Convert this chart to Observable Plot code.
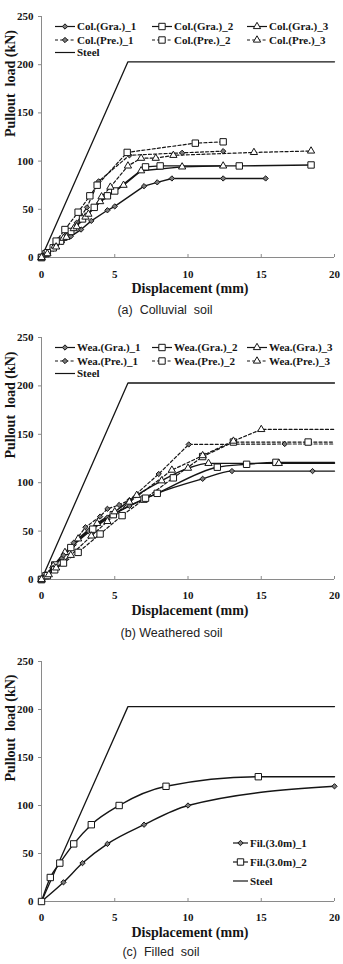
<!DOCTYPE html>
<html>
<head>
<meta charset="utf-8">
<script src="https://cdn.jsdelivr.net/npm/d3@7"></script>
<script src="https://cdn.jsdelivr.net/npm/@observablehq/plot@0.6"></script>
<style>
  body { margin: 0; background: #fff; width: 343px; }
  svg text {
    white-space: pre;
    font-family: "Liberation Serif", "Times New Roman", serif !important;
    font-weight: bold;
  }
  .cap {
    font-family: "Liberation Sans", Arial, sans-serif;
    font-size: 12.5px;
    color: #222;
    text-align: center;
    white-space: pre;
  }
</style>
</head>
<body>
<div id="chart"></div>
<script>
// Axis ticks shared by the three panels
const xTicks = [0, 5, 10, 15, 20];
const yTicks = [0, 50, 100, 150, 200, 250];

// Steel tendon reference curve
const steelX = [0, 5.9, 20];
const steelY = [0, 203, 203];

// (a) Colluvial soil
const colNames = ["Col.(Gra.)_1", "Col.(Gra.)_2", "Col.(Gra.)_3", "Col.(Pre.)_1", "Col.(Pre.)_2", "Col.(Pre.)_3"];
const colGra1X = [0, 0.3, 0.8, 1.4, 2.0, 2.7, 3.4, 4.5, 5.0, 7.0, 7.9, 8.9, 12.4, 15.3];
const colGra1Y = [0, 3, 9, 16, 22, 29, 38, 49, 53, 74, 78, 82, 82, 82];
const colGra2X = [0, 0.3, 0.8, 1.3, 2.0, 2.8, 3.6, 4.5, 5.0, 7.1, 8.1, 13.5, 18.4];
const colGra2Y = [0, 4, 10, 17, 27, 40, 52, 64, 69, 94, 95, 95, 96];
const colGra3X = [0, 0.3, 0.9, 1.5, 2.2, 3.0, 4.0, 5.6, 6.8, 9.6, 12.4];
const colGra3Y = [0, 4, 12, 20, 30, 42, 58, 75, 90, 94, 95];
const colPre1X = [0, 0.4, 1.0, 1.7, 2.4, 3.1, 3.9, 6.0, 9.6, 12.4];
const colPre1Y = [0, 5, 13, 24, 36, 52, 79, 106, 108.6, 110.3];
const colPre2X = [0, 0.4, 1.0, 1.6, 2.5, 3.3, 3.8, 5.85, 10.5, 12.4];
const colPre2Y = [0, 5, 17, 29, 47, 64, 75, 109, 118.6, 120];
const colPre3X = [0, 0.4, 1.0, 1.7, 2.4, 3.2, 4.1, 4.7, 5.9, 6.8, 7.8, 9.0, 14.5, 18.4];
const colPre3Y = [0, 4, 11, 21, 32, 45, 63, 73, 95, 103, 103, 106, 109, 110.5];

// (b) Weathered soil
const weaNames = ["Wea.(Gra.)_1", "Wea.(Gra.)_2", "Wea.(Gra.)_3", "Wea.(Pre.)_1", "Wea.(Pre.)_2", "Wea.(Pre.)_3"];
const weaGra1X = [0, 0.3, 0.8, 1.4, 2.2, 3.2, 4.5, 6.0, 7.9, 11.0, 13.0, 18.5, 20];
const weaGra1Y = [0, 4, 14, 22, 36, 50, 64, 76, 89, 104, 112, 112, 112];
const weaGra2X = [0, 0.3, 0.9, 2.0, 3.5, 4.9, 7.0, 7.9, 12.0, 14.0, 16.0, 20];
const weaGra2Y = [0, 4, 15, 33, 52, 67, 83, 89, 116, 119, 121, 121];
const weaGra3X = [0, 0.3, 0.8, 1.6, 2.5, 3.8, 5.0, 6.5, 8.2, 10.0, 11.4, 16.2, 20];
const weaGra3Y = [0, 4, 14, 28, 42, 58, 70, 87, 102, 115, 120, 120, 120];
const weaPre1X = [0, 0.3, 0.8, 1.5, 2.2, 3.0, 4.0, 4.5, 5.3, 6.0, 8.0, 10.05, 16.6, 20];
const weaPre1Y = [0, 4, 12, 25, 38, 54, 65, 73, 77, 82, 109, 139.5, 140, 140];
const weaPre2X = [0, 0.4, 0.9, 1.5, 2.5, 4.0, 5.5, 7.1, 9.0, 11.0, 13.1, 18.2, 20];
const weaPre2Y = [0, 4, 10, 17, 28, 47, 66, 84, 105, 127, 142, 142, 142];
const weaPre3X = [0, 0.5, 1.0, 2.0, 3.4, 4.5, 6.0, 8.9, 11.0, 13.1, 15.0, 20];
const weaPre3Y = [0, 5, 12, 25, 45, 60, 80, 113, 128, 143, 155, 155];

// (c) Filled soil
const filNames = ["Fil.(3.0m)_1", "Fil.(3.0m)_2"];
const fil1X = [0, 1.5, 2.8, 4.5, 7.0, 10.0, 20];
const fil1Y = [0, 20, 40, 60, 80, 100, 120];
const fil2X = [0, 0.6, 1.25, 2.2, 3.4, 5.3, 8.5, 14.8, 20];
const fil2Y = [0, 25, 40, 60, 80, 100, 120, 130, 130];

const INK = "#151515";
const AXIS = "#8a8a8a";
const DASH = "3,2.2";
const SYMBOLS = {diamond: d3.symbolDiamond2, square: d3.symbolSquare, triangle: d3.symbolTriangle};
const SYMBOL_R = {diamond: 2.4, square: 3.6, triangle: 2.7};
const SYMBOL_FILL = {diamond: "#7a7a7a", square: "#fff", triangle: "#fff"};

function makeSeries(names, xs, ys, openEnd) {
  const styles = [
    {dash: false, symbol: "diamond"}, {dash: false, symbol: "square"}, {dash: false, symbol: "triangle"},
    {dash: true, symbol: "diamond"}, {dash: true, symbol: "square"}, {dash: true, symbol: "triangle"}
  ];
  return names.map((name, k) => ({name, x: xs[k], y: ys[k], openEnd, ...styles[k]}));
}

const colSeries = makeSeries(colNames,
  [colGra1X, colGra2X, colGra3X, colPre1X, colPre2X, colPre3X],
  [colGra1Y, colGra2Y, colGra3Y, colPre1Y, colPre2Y, colPre3Y], false);
const weaSeries = makeSeries(weaNames,
  [weaGra1X, weaGra2X, weaGra3X, weaPre1X, weaPre2X, weaPre3X],
  [weaGra1Y, weaGra2Y, weaGra3Y, weaPre1Y, weaPre2Y, weaPre3Y], true);
const filSeries = [
  {name: filNames[0], x: fil1X, y: fil1Y, dash: false, symbol: "diamond", openEnd: false},
  {name: filNames[1], x: fil2X, y: fil2Y, dash: false, symbol: "square", openEnd: true}
];

// Legend drawn inside the frame: a short line with its marker, then the label
function legendMark(entries, cells) {
  return (index, scales, values, dims) => {
    const g = d3.create("svg:g").attr("font-size", 11).attr("fill", INK).attr("text-anchor", "start");
    entries.forEach((e, k) => {
      const c = cells[k];
      const row = g.append("g")
        .attr("transform", `translate(${dims.marginLeft + c.x},${dims.marginTop + c.y})`);
      row.append("line")
        .attr("x2", c.len).attr("stroke", INK).attr("stroke-width", 1.2)
        .attr("stroke-dasharray", e.dash ? DASH : null);
      if (e.symbol) {
        const r = SYMBOL_R[e.symbol];
        row.append("path")
          .attr("transform", `translate(${c.len / 2},0)`)
          .attr("d", d3.symbol(SYMBOLS[e.symbol], Math.PI * r * r)())
          .attr("fill", SYMBOL_FILL[e.symbol]).attr("stroke", INK).attr("stroke-width", 1);
      }
      row.append("text").attr("x", c.len + 2).attr("dy", "0.35em")
        .attr("text-anchor", "start").text(e.label);
    });
    return g.node();
  };
}

function gridCells(n) {
  const cols = [14, 111, 206], rows = [10.5, 24, 36.5];
  return d3.range(n).map(k => ({x: cols[k % 3], y: rows[Math.floor(k / 3)], len: 20}));
}

function makePanel(p) {
  const rows = p.series.flatMap(s => s.x.map((x, i) => ({
    name: s.name, x, y: s.y[i], marked: !(s.openEnd && i === s.x.length - 1)
  })));
  const steel = steelX.map((x, i) => ({x, y: steelY[i]}));

  const marks = [
    Plot.ruleY([0], {stroke: AXIS}),
    Plot.ruleX([0], {stroke: AXIS}),
    Plot.axisY({ticks: yTicks, tickSize: 3, tickPadding: 5, stroke: AXIS, label: null}),
    Plot.axisX({ticks: xTicks, tickSize: 3, dy: -3, tickFormat: () => "", stroke: AXIS, label: null}),
    Plot.axisX({ticks: xTicks, tickSize: 0, tickPadding: p.tickPadding, label: null}),
    Plot.text(["Displacement (mm)"], {text: d => d, frameAnchor: "bottom", dx: 2, dy: 31, lineAnchor: "middle", fontSize: 14}),
    Plot.text(["Pullout  load (kN)"], {text: d => d, frameAnchor: "left", dx: -31, rotate: -90, lineAnchor: "middle", fontSize: 14}),
    Plot.line(steel, {x: "x", y: "y", stroke: INK, strokeWidth: 1.3})
  ];
  for (const s of p.series) {
    const pts = rows.filter(d => d.name === s.name);
    marks.push(Plot.line(pts, {
      x: "x", y: "y", stroke: INK, strokeWidth: s.dash ? 1.2 : 1.4,
      strokeDasharray: s.dash ? DASH : null,
      curve: s.dash ? "linear" : p.solidCurve
    }));
  }
  for (const s of p.series) {
    const pts = rows.filter(d => d.name === s.name && d.marked);
    marks.push(Plot.dot(pts, {
      x: "x", y: "y", symbol: SYMBOLS[s.symbol], r: SYMBOL_R[s.symbol],
      fill: SYMBOL_FILL[s.symbol], stroke: INK, strokeWidth: 1
    }));
  }
  const entries = p.series.map(s => ({label: s.name, dash: s.dash, symbol: s.symbol}))
    .concat([{label: "Steel", dash: false, symbol: null}]);
  marks.push(legendMark(entries, p.legendCells(entries.length)));

  return Plot.plot({
    width: 343,
    height: p.height,
    marginLeft: 41,
    marginRight: 9,
    marginTop: p.marginTop,
    marginBottom: p.marginBottom,
    x: {domain: [0, 20]},
    y: {domain: [0, 250]},
    style: {
      fontFamily: '"Liberation Serif", "Times New Roman", serif',
      fontWeight: "bold",
      fontSize: "11px",
      color: INK,
      background: "#fff",
      overflow: "visible"
    },
    marks
  });
}

const panels = [
  {series: colSeries, height: 296, marginTop: 16, marginBottom: 39, tickPadding: 12.5,
   solidCurve: "linear", legendCells: gridCells,
   caption: "(a)  Colluvial  soil", capHeight: 28, capShift: 13},
  {series: weaSeries, height: 298, marginTop: 13, marginBottom: 43, tickPadding: 12,
   solidCurve: "monotone-x", legendCells: gridCells,
   caption: "(b) Weathered soil", capHeight: 22, capShift: 0},
  {series: filSeries, height: 296, marginTop: 17, marginBottom: 39, tickPadding: 12,
   solidCurve: "monotone-x",
   legendCells: n => d3.range(n).map(k => ({x: 192, y: [182, 201, 220][k], len: 15})),
   caption: "(c)  Filled  soil", capHeight: 24, capShift: 21}
];

const root = document.getElementById("chart");
for (const p of panels) {
  root.appendChild(makePanel(p));
  const cap = document.createElement("div");
  cap.className = "cap";
  cap.style.height = p.capHeight + "px";
  cap.style.lineHeight = p.capHeight + "px";
  cap.style.paddingRight = p.capShift + "px";
  cap.textContent = p.caption;
  root.appendChild(cap);
}
</script>
</body>
</html>
